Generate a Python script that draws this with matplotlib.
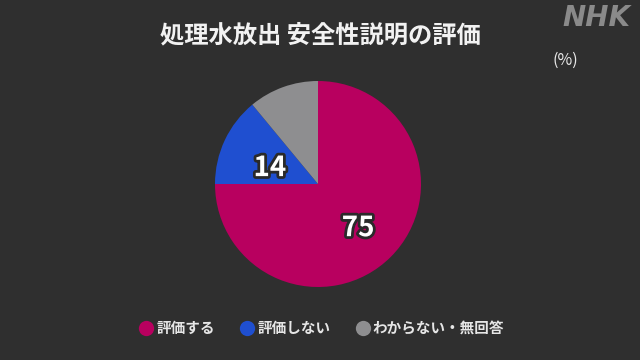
import matplotlib.pyplot as plt
import matplotlib.patheffects as pe
from matplotlib.lines import Line2D

plt.rcParams['font.family'] = ['Noto Sans CJK JP', 'DejaVu Sans']

# data
labels = ['評価する', '評価しない', 'わからない・無回答']
values = [75, 14, 11]
colors = ['#b8005f', '#1f4fd0', '#8e8e90']
shown = ['75', '14', '']  # small gray slice has no number

bg = '#2f2f2f'
fig = plt.figure(figsize=(6.4, 3.6), dpi=100, facecolor=bg)

# pie axes: center at (318,184) px, radius ~103 px
r = 103
ax = fig.add_axes([(318 - r) / 640, (360 - 184 - r) / 360, 2 * r / 640, 2 * r / 360])
ax.set_facecolor(bg)
wedges, texts = ax.pie(values, colors=colors, startangle=90, counterclock=False,
                       labels=shown, labeldistance=0.55, radius=1,
                       wedgeprops=dict(linewidth=0))
nudge = [(0.0, -0.04), (0.03, -0.08), (0, 0)]  # small label offsets
for t, (dx, dy) in zip(texts, nudge):
    x, y = t.get_position()
    t.set_position((x + dx, y + dy))
    t.set_color('white')
    t.set_fontsize(20)
    t.set_fontweight('bold')
    t.set_ha('center')
    t.set_va('center')
    t.set_path_effects([pe.withStroke(linewidth=4, foreground='#2a2a2a')])
ax.set_xlim(-1, 1)
ax.set_ylim(-1, 1)
ax.set_aspect('equal')
ax.axis('off')

# title
fig.text(320 / 640, 1 - 35 / 360, '処理水放出 安全性説明の評価', color='#f2f2f2',
         fontsize=17.5, fontweight='bold', ha='center', va='center')
# unit
fig.text(565 / 640, 1 - 60 / 360, '(%)', color='#e8e8e8', fontsize=11.5,
         ha='center', va='center')
# logo
fig.text(596 / 640, 1 - 18 / 360, 'NHK', color='#8a8a8a', fontsize=20,
         fontweight='heavy', style='italic', ha='center', va='center',
         family=['DejaVu Sans'])

# legend
handles = [Line2D([0], [0], marker='o', linestyle='none', markersize=11,
                  markerfacecolor=c, markeredgewidth=0) for c in colors]
leg = fig.legend(handles, labels, loc='center', ncol=3,
                 bbox_to_anchor=(321 / 640, 1 - 328 / 360), frameon=False,
                 handletextpad=0.1, columnspacing=1.6, handlelength=1.2,
                 prop=dict(size=10.5, weight='bold'))
for t in leg.get_texts():
    t.set_color('#e6e6e6')

fig.savefig('out.png', dpi=100, facecolor=bg)
